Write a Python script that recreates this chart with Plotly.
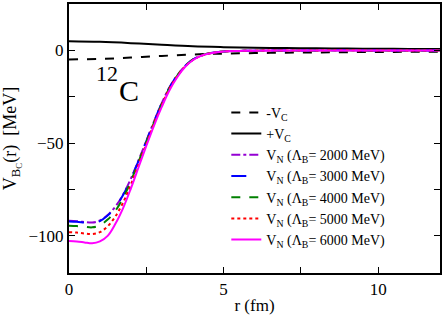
import plotly.graph_objects as go

# Coulomb potential (MeV) vs r (fm)
r_c = [0, 1, 2, 3, 4, 5, 6, 7, 8, 9, 10, 11, 12]
v_c = [4.9, 4.6, 3.9, 3.0, 2.2, 1.75, 1.45, 1.25, 1.1, 0.97, 0.87, 0.79, 0.72]

# Nuclear potentials
r_n = [0, 0.25, 0.5, 0.75, 1.0, 1.25, 1.5, 1.75, 2.0, 2.25, 2.5, 2.75, 3.0,
       3.25, 3.5, 3.75, 4.0, 4.25, 4.5, 5, 5.5, 6, 7, 8, 10, 12]
v_2000 = [-91.9, -92.1, -92.5, -92.8, -91.7, -88.7, -84.2, -77.7, -69.2, -59.2, -48.8, -38.3,
          -28.4, -20.0, -13.5, -8.5, -5.0, -3.0, -1.7, -0.6, -0.3, -0.15, -0.05, 0, 0, 0]
v_3000 = [-92.2, -92.4, -92.8, -93.1, -92.0, -89.0, -84.5, -78.0, -69.5, -59.5, -49.0, -38.5,
          -28.5, -20.0, -13.5, -8.5, -5.0, -3.0, -1.7, -0.6, -0.3, -0.15, -0.05, 0, 0, 0]
v_4000 = [-94.5, -94.7, -95.1, -95.4, -94.3, -91.2, -86.5, -79.5, -70.5, -60.0, -49.5, -39.0,
          -29.0, -20.3, -13.7, -8.6, -5.1, -3.0, -1.7, -0.6, -0.3, -0.15, -0.05, 0, 0, 0]
v_5000 = [-98.0, -98.2, -98.7, -99.0, -98.0, -94.8, -89.5, -82.0, -72.5, -61.5, -50.5, -39.5,
          -29.5, -20.6, -14.0, -8.8, -5.2, -3.1, -1.8, -0.6, -0.3, -0.15, -0.05, 0, 0, 0]
v_6000 = [-102.8, -103.0, -103.5, -104.0, -103.0, -100.0, -93.5, -85.0, -74.5, -63.0, -51.5, -40.5,
          -30.5, -21.5, -14.5, -9.0, -5.3, -3.1, -1.8, -0.6, -0.3, -0.15, -0.05, 0, 0, 0]

x_ticks = [0, 5, 10]
y_ticks = [0, -50, -100]

FONT = "Liberation Serif"

fig = go.Figure()
fig.add_trace(go.Scatter(x=r_c, y=[-v for v in v_c], mode="lines", name="-V<sub>C</sub>",
                         line=dict(color="black", width=2, dash="dash", shape="spline")))
fig.add_trace(go.Scatter(x=r_c, y=v_c, mode="lines", name="+V<sub>C</sub>",
                         line=dict(color="black", width=2, shape="spline")))
series = [
    (v_2000, "2000", "#9400D3", "dashdot"),
    (v_3000, "3000", "#0000FF", "longdash"),
    (v_4000, "4000", "#008000", "dash"),
    (v_5000, "5000", "#FF0000", "dot"),
    (v_6000, "6000", "#FF00FF", "solid"),
]
for vals, lab, col, dash in series:
    fig.add_trace(go.Scatter(x=r_n, y=vals, mode="lines",
                             name="V<sub>N</sub> (Λ<sub>B</sub>= " + lab + " MeV)",
                             line=dict(color=col, width=2, dash=dash, shape="spline")))

fig.add_annotation(x=1.22, y=-12.5, xref="x", yref="y", text="12",
                   showarrow=False, font=dict(family=FONT, size=22, color="black"))
fig.add_annotation(x=1.94, y=-21.5, xref="x", yref="y", text="C",
                   showarrow=False, font=dict(family=FONT, size=30, color="black"))

axis_common = dict(showline=True, linecolor="black", linewidth=2, mirror="ticks",
                   ticks="inside", ticklen=6, tickwidth=1, tickcolor="black",
                   showgrid=False, zeroline=False,
                   tickfont=dict(family=FONT, size=17, color="black"))

fig.update_xaxes(range=[0, 12], tickvals=x_ticks,
                 minor=dict(dtick=2.5, ticks="inside", ticklen=6, tickcolor="black", showgrid=False),
                 title=dict(text="r (fm)", font=dict(family=FONT, size=17, color="black"), standoff=2),
                 **axis_common)
fig.update_yaxes(range=[-120, 25], tickvals=y_ticks,
                 minor=dict(dtick=25, ticks="inside", ticklen=6, tickcolor="black", showgrid=False),
                 title=dict(text="V<sub>B<sub>C</sub></sub>(r)  [MeV]",
                            font=dict(family=FONT, size=18, color="black"), standoff=8),
                 **axis_common)

fig.update_layout(
    width=444, height=315,
    margin=dict(l=69, r=2, t=2, b=39),
    plot_bgcolor="white", paper_bgcolor="white",
    showlegend=True,
    legend=dict(x=0.424, y=0.655, xanchor="left", yanchor="top",
                bgcolor="rgba(0,0,0,0)", borderwidth=0, tracegroupgap=0,
                font=dict(family=FONT, size=14, color="black")),
)

fig.write_html("out.html", config={"displayModeBar": False},
               post_script="document.body.style.margin='0';")
